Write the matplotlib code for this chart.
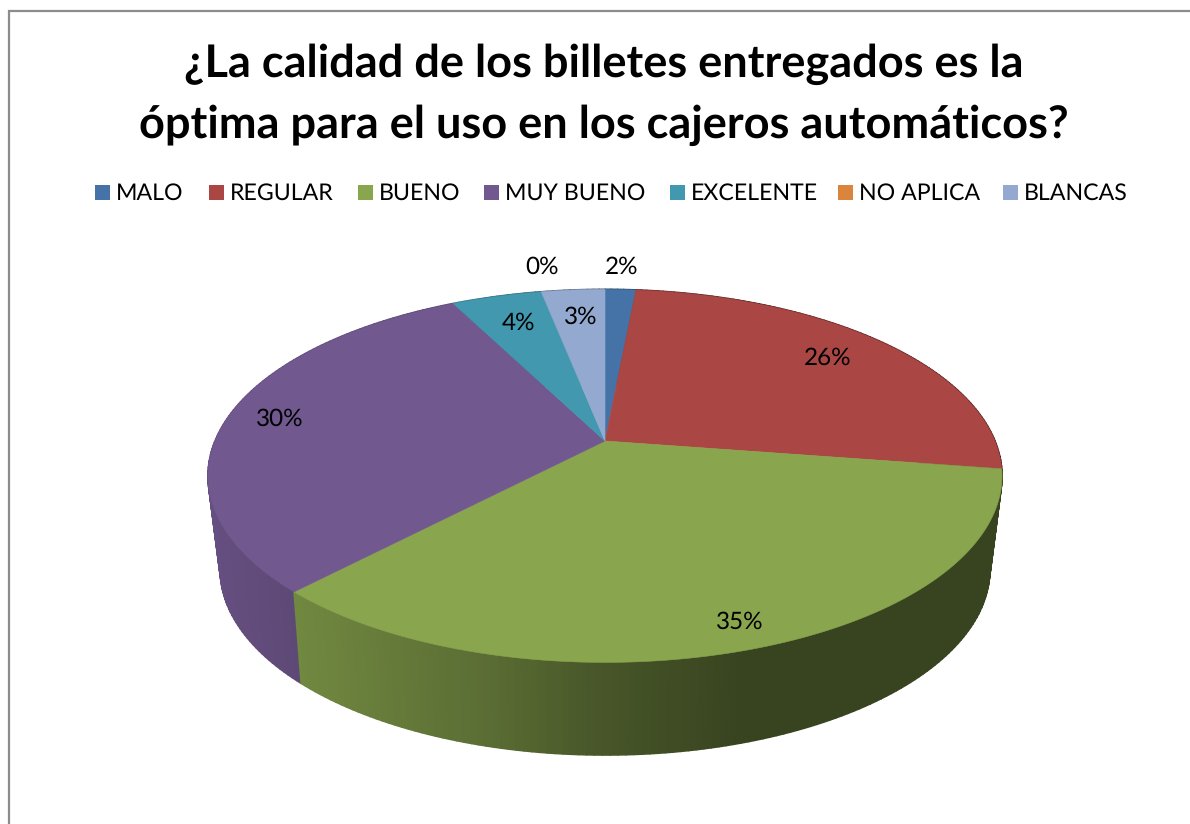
import numpy as np
import matplotlib
matplotlib.use('Agg')
import matplotlib.pyplot as plt
from matplotlib.patches import Polygon, Rectangle

plt.rcParams['font.family'] = ['Lato', 'DejaVu Sans']
plt.rcParams['text.hinting'] = 'no_hinting'

# Data
categories = ['MALO', 'REGULAR', 'BUENO', 'MUY BUENO', 'EXCELENTE', 'NO APLICA', 'BLANCAS']
values = [1.5, 25.9, 34.7, 30.4, 4.4, 0.0, 3.1]
colors = ['#4572A7', '#AA4643', '#89A54E', '#71588F', '#4198AF', '#DB843D', '#93A9CF']

title_lines = ['¿La calidad de los billetes entregados es la',
               'óptima para el uso en los cajeros automáticos?']

# Layout, in pixels of the 1190x824 picture
legend_box_x = [95, 209, 358, 484, 670, 838, 1003]
label_xy = [(622, 267), (828, 358), (740, 622), (280, 419), (518, 323), (542, 267), (581, 317)]

CX, CY = 605, 441
RX, RY, K = 390, 180, 0.187
# Lower rim of the wall
CX2, CY2 = 605, 532.5
RX2, RY2, K2 = 377, 178, 0.20


def project(angle, bottom=False):
    """Pie angle (0 = top, clockwise) to picture pixels, with some perspective"""
    u = np.sin(angle)
    v = -np.cos(angle)
    if bottom:
        w = 1 - K2 * v
        return CX2 + RX2 * u / w, CY2 + RY2 * v / w
    w = 1 - K * v
    return CX + RX * u / w, CY + RY * v / w


def side_shade(x):
    return np.interp(x, [207, 300, 490, 600, 740], [0.90, 0.82, 0.66, 0.52, 0.41])


fig = plt.figure(figsize=(11.9, 8.24), dpi=100)
ax = fig.add_axes([0, 0, 1, 1])
ax.set_xlim(0, 1190)
ax.set_ylim(824, 0)
ax.axis('off')

# Chart frame: only the left and top edges are in the crop
ax.plot([8.5, 8.5, 1190], [824, 10.5, 10.5], color='#8c8c8c', lw=1.6, solid_joinstyle='miter')

edges = np.cumsum([0] + values) / sum(values) * 2 * np.pi

# Side wall, far pieces first
pieces = []
for i in range(len(values)):
    steps = max(int((edges[i + 1] - edges[i]) * 60), 1) if values[i] > 0 else 0
    grid = np.linspace(edges[i], edges[i + 1], steps + 1)
    for a0, a1 in zip(grid[:-1], grid[1:]):
        pieces.append((-np.cos((a0 + a1) / 2), a0, a1, i))
pieces.sort(key=lambda p: p[0])

for _, a0, a1, i in pieces:
    x0, y0 = project(a0)
    x1, y1 = project(a1)
    x2, y2 = project(a1, bottom=True)
    x3, y3 = project(a0, bottom=True)
    rgb = np.array(matplotlib.colors.to_rgb(colors[i])) * side_shade((x0 + x1) / 2)
    ax.add_patch(Polygon([(x0, y0), (x1, y1), (x2, y2), (x3, y3)], closed=True,
                         facecolor=rgb, edgecolor=rgb, lw=1.2, joinstyle='round'))

# Top face
for i in range(len(values)):
    if values[i] == 0:
        continue
    grid = np.linspace(edges[i], edges[i + 1], 200)
    xs, ys = project(grid)
    pts = [(CX, CY)] + list(zip(xs, ys))
    ax.add_patch(Polygon(pts, closed=True, facecolor=colors[i], edgecolor=colors[i], lw=0.4))

# Percent labels
for val, (x, y) in zip(values, label_xy):
    ax.text(x, y, f'{val:.0f}%', ha='center', va='center', fontsize=17.5, color='black')

# Title
ax.text(604, 64, title_lines[0], ha='center', va='center', fontsize=32.5, fontweight='bold')
ax.text(604, 125, title_lines[1], ha='center', va='center', fontsize=32.5, fontweight='bold')

# Legend
for name, col, x in zip(categories, colors, legend_box_x):
    ax.add_patch(Rectangle((x, 185), 15, 15, facecolor=col, edgecolor='none'))
    ax.text(x + 21, 193, name, ha='left', va='center', fontsize=16.7, color='black')

fig.savefig('out.png', dpi=100)
plt.close()
